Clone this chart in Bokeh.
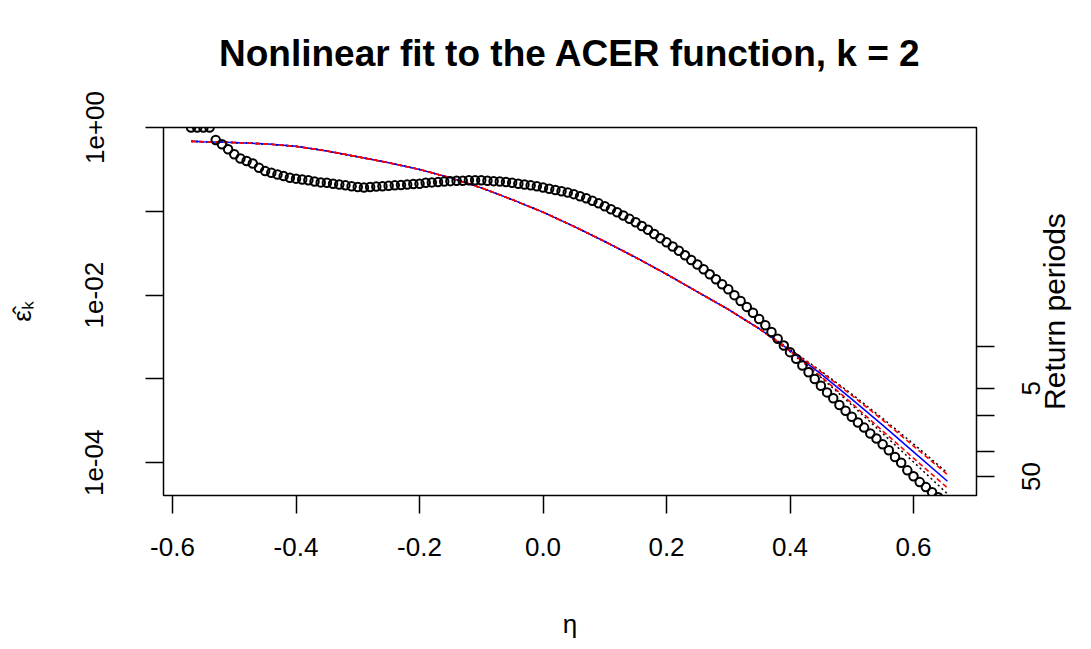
import math
import numpy as np
from bokeh.plotting import figure
from bokeh.models import LinearAxis, LogAxis, FixedTicker, Range1d, ColumnDataSource
from bokeh.embed import file_html
from bokeh.resources import INLINE

# Empirical ACER estimates (k = 2), stored as log10(epsilon_k) on a 0.01 grid of eta
eta_start, eta_step = -0.57, 0.01
acer_log10 = [
    0.0, 0.0, 0.0, 0.0,
    -0.15, -0.20, -0.26, -0.32, -0.37, -0.40, -0.43, -0.48, -0.52, -0.54,
    -0.56, -0.58, -0.60, -0.61, -0.62, -0.63, -0.645, -0.655, -0.66, -0.67,
    -0.68, -0.69, -0.70, -0.71, -0.715, -0.71, -0.705, -0.70, -0.695, -0.69,
    -0.685, -0.68, -0.675, -0.67, -0.66, -0.655, -0.65, -0.645, -0.64, -0.635,
    -0.635, -0.63, -0.63, -0.63, -0.635, -0.64, -0.645, -0.65, -0.66, -0.67,
    -0.68, -0.69, -0.70, -0.715, -0.73, -0.745, -0.76, -0.775, -0.795, -0.82,
    -0.845, -0.875, -0.905, -0.94, -0.975, -1.01, -1.05, -1.09, -1.13, -1.175,
    -1.22, -1.27, -1.32, -1.37, -1.42, -1.47, -1.525, -1.58, -1.635, -1.69,
    -1.75, -1.81, -1.87, -1.93, -2.00, -2.07, -2.14, -2.21, -2.285, -2.36,
    -2.44, -2.52, -2.60, -2.68, -2.76, -2.84, -2.92, -3.00, -3.08, -3.16,
    -3.23, -3.31, -3.38, -3.45, -3.52, -3.58, -3.65, -3.71, -3.78, -3.85,
    -3.93, -4.00, -4.09, -4.16, -4.23, -4.29, -4.35, -4.41,
]

# Nonlinear fit and its confidence bands (log10 epsilon_k)
fit_eta = [-0.57, -0.55, -0.50, -0.45, -0.40, -0.35, -0.30, -0.25, -0.20, -0.15,
           -0.10, -0.05, 0.00, 0.05, 0.10, 0.15, 0.20, 0.25, 0.30, 0.35,
           0.40, 0.45, 0.50, 0.55, 0.60, 0.655]
fit_log10 = [-0.165, -0.17, -0.18, -0.195, -0.225, -0.28, -0.35, -0.42, -0.50, -0.60,
             -0.72, -0.86, -1.01, -1.18, -1.36, -1.55, -1.75, -1.96, -2.17, -2.40,
             -2.66, -2.94, -3.24, -3.55, -3.87, -4.22]
ci_red_upper = [-0.165, -0.17, -0.18, -0.195, -0.225, -0.28, -0.35, -0.42, -0.50, -0.60,
                -0.72, -0.86, -1.01, -1.18, -1.36, -1.55, -1.75, -1.96, -2.17, -2.40,
                -2.65, -2.915, -3.195, -3.49, -3.80, -4.14]
ci_red_lower = [-0.165, -0.17, -0.18, -0.195, -0.225, -0.28, -0.35, -0.42, -0.50, -0.60,
                -0.72, -0.86, -1.01, -1.18, -1.36, -1.55, -1.75, -1.96, -2.17, -2.40,
                -2.67, -2.97, -3.29, -3.62, -3.945, -4.30]
ci_black_upper = [-0.165, -0.17, -0.18, -0.195, -0.225, -0.28, -0.35, -0.42, -0.50, -0.60,
                  -0.72, -0.86, -1.01, -1.18, -1.36, -1.55, -1.75, -1.96, -2.17, -2.40,
                  -2.645, -2.905, -3.18, -3.47, -3.775, -4.12]
ci_black_lower = [-0.165, -0.17, -0.18, -0.195, -0.225, -0.28, -0.35, -0.42, -0.50, -0.60,
                  -0.72, -0.86, -1.01, -1.18, -1.36, -1.55, -1.75, -1.96, -2.17, -2.40,
                  -2.675, -2.98, -3.31, -3.65, -3.99, -4.37]

# Axis ticks
x_ticks = [-0.6, -0.4, -0.2, 0.0, 0.2, 0.4, 0.6]
x_tick_labels = ["-0.6", "-0.4", "-0.2", "0.0", "0.2", "0.4", "0.6"]
y_ticks = [1.0, 1e-1, 1e-2, 1e-3, 1e-4]
y_tick_labels = ["1e+00", "", "1e-02", "", "1e-04"]
rp_ticks = [2.43e-3, 7.74e-4, 3.63e-4, 1.36e-4, 6.87e-5]
rp_tick_labels = ["", "5", "", "", "50"]

TITLE = "Nonlinear fit to the ACER function, k = 2"
FONT = "Liberation Sans"
TICK_PX = 26          # tick label font size
RP_TITLE_PX = 30      # "Return periods" font size
DIGIT_EM = 0.556      # advance width of a digit, in em
RP_TITLE_EM = 6.56    # advance width of "Return periods", in em

W, H = 1091, 649
BORDER_L, BORDER_R, BORDER_T, BORDER_B = 163, 115, 127, 154
FRAME_H = H - BORDER_T - BORDER_B
X0, X1 = -0.6146, 0.702
LOG_Y0, LOG_Y1 = -4.39, 0.0
PX_PER_DECADE = FRAME_H / (LOG_Y1 - LOG_Y0)

eta = np.round(eta_start + eta_step * np.arange(len(acer_log10)), 2)
acer = 10.0 ** np.array(acer_log10)
fit_eta_a = np.array(fit_eta)

p = figure(
    width=W, height=H,
    y_axis_type="log",
    x_range=Range1d(X0, X1),
    y_range=Range1d(10 ** LOG_Y0, 10 ** LOG_Y1),
    output_backend="svg", toolbar_location=None,
    min_border_left=BORDER_L, min_border_right=BORDER_R,
    min_border_top=BORDER_T, min_border_bottom=BORDER_B,
    background_fill_color="white", border_fill_color="white",
)
p.grid.visible = False
p.outline_line_color = "black"
p.outline_line_width = 1.5


def style_axis(ax, size=TICK_PX):
    ax.axis_line_color = None
    ax.major_tick_line_color = "black"
    ax.major_tick_line_width = 1.5
    ax.major_tick_out = 18
    ax.major_tick_in = 0
    ax.minor_tick_line_color = "black"
    ax.minor_tick_line_width = 1.5
    ax.minor_tick_out = 18
    ax.minor_tick_in = 0
    ax.major_label_text_font = FONT
    ax.major_label_text_font_size = f"{size}px"
    ax.major_label_text_color = "black"
    ax.axis_label_text_font = FONT
    ax.axis_label_text_font_size = f"{TICK_PX}px"
    ax.axis_label_text_font_style = "normal"
    ax.axis_label_text_color = "black"


# bottom axis
xa = p.xaxis[0]
style_axis(xa)
xa.ticker = FixedTicker(ticks=x_ticks, minor_ticks=[])
xa.major_label_overrides = dict(zip(x_ticks, x_tick_labels))
xa.major_label_standoff = 24
xa.axis_label = "η"
xa.axis_label_standoff = 50

# left axis: labelled decades as major ticks, the others as unlabelled ticks
ya = p.yaxis[0]
style_axis(ya)
y_major = [t for t, s in zip(y_ticks, y_tick_labels) if s]
y_minor = [t for t, s in zip(y_ticks, y_tick_labels) if not s]
ya.ticker = FixedTicker(ticks=y_major, minor_ticks=y_minor)
ya.major_label_overrides = {t: s for t, s in zip(y_ticks, y_tick_labels) if s}
ya.major_label_orientation = "vertical"
ya.major_label_standoff = 42
ya.axis_label = "ε̂ₖ"
ya.axis_label_standoff = 46

# right axis: return periods, labels read bottom-to-top and are centred on their ticks
rp_major, rp_overrides = [], {}
for t, s in zip(rp_ticks, rp_tick_labels):
    if s:
        half = 0.5 * len(s) * DIGIT_EM * TICK_PX
        anchor = t * 10 ** (-half / PX_PER_DECADE)
        rp_major.append(anchor)
        rp_overrides[anchor] = s
ra = LogAxis(ticker=FixedTicker(ticks=rp_major, minor_ticks=rp_ticks))
style_axis(ra)
ra.major_tick_line_color = None
ra.major_label_overrides = rp_overrides
ra.major_label_orientation = math.pi / 2
ra.major_label_standoff = 37
p.add_layout(ra, "right")

# outer right axis carrying the "Return periods" caption
mid_log = 0.5 * (LOG_Y0 + LOG_Y1)
cap_anchor = 10 ** (mid_log - 0.5 * RP_TITLE_EM * RP_TITLE_PX / PX_PER_DECADE)
rt = LogAxis(ticker=FixedTicker(ticks=[cap_anchor], minor_ticks=[]))
style_axis(rt, RP_TITLE_PX)
rt.major_tick_line_color = None
rt.major_tick_out = 0
rt.minor_tick_out = 0
rt.major_label_overrides = {cap_anchor: "Return periods"}
rt.major_label_orientation = math.pi / 2
rt.major_label_standoff = 2
p.add_layout(rt, "right")

# title drawn as the single label of an untitled top axis
x_mid = 0.5 * (X0 + X1)
ta = LinearAxis(ticker=FixedTicker(ticks=[x_mid], minor_ticks=[]))
style_axis(ta, 37)
ta.major_tick_line_color = None
ta.major_tick_out = 0
ta.minor_tick_out = 0
ta.major_label_overrides = {x_mid: TITLE}
ta.major_label_text_font_style = "bold"
ta.major_label_standoff = 54
p.add_layout(ta, "above")

# confidence bands and fit
p.line(fit_eta_a, 10.0 ** np.array(ci_black_upper), line_color="black", line_width=1.5, line_dash="2 3")
p.line(fit_eta_a, 10.0 ** np.array(ci_black_lower), line_color="black", line_width=1.5, line_dash="2 3")
p.line(fit_eta_a, 10.0 ** np.array(fit_log10), line_color="blue", line_width=1.5)
p.line(fit_eta_a, 10.0 ** np.array(ci_red_upper), line_color="red", line_width=1.6, line_dash="5 3")
p.line(fit_eta_a, 10.0 ** np.array(ci_red_lower), line_color="red", line_width=1.6, line_dash="5 3")

# empirical ACER values
src = ColumnDataSource(dict(eta=eta, acer=acer))
p.scatter("eta", "acer", source=src, marker="circle", size=8.5,
          line_color="black", line_width=2.0, fill_color=None)

open("out.html", "w").write(file_html(p, INLINE))
